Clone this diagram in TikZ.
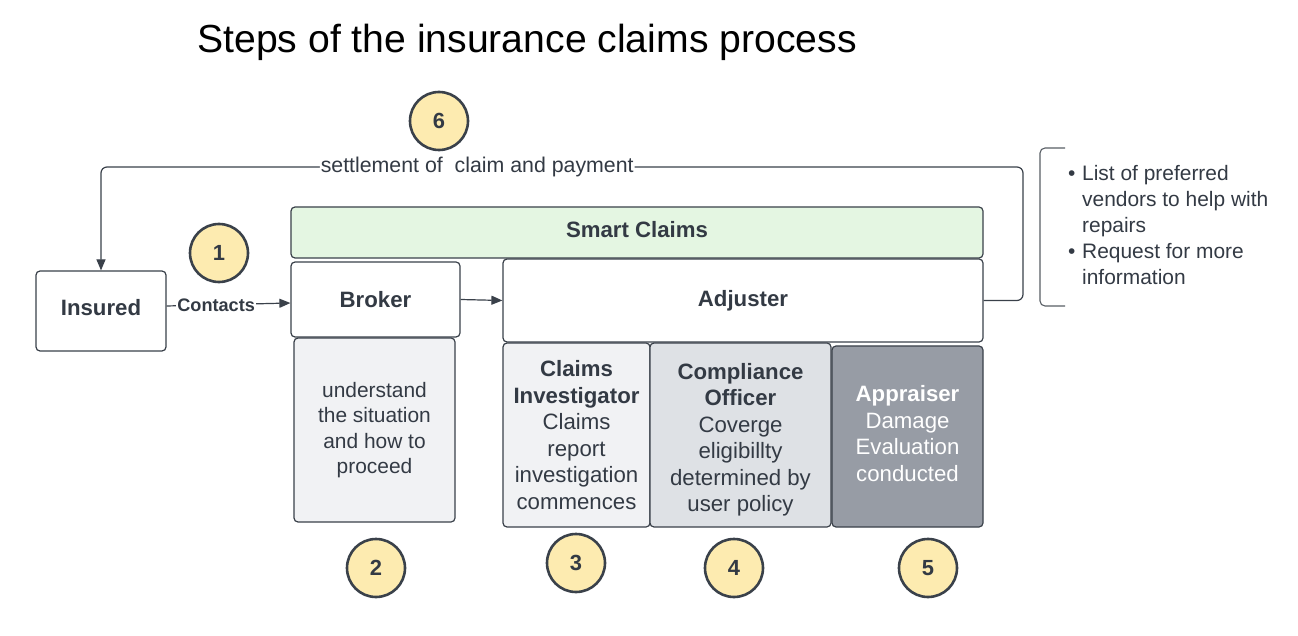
\documentclass[tikz,border=0pt]{standalone}
\usepackage{fontspec}
\setmainfont{Liberation Sans}
\usetikzlibrary{arrows.meta}
\definecolor{ink}{HTML}{3A414A}
\definecolor{txt}{HTML}{333A44}
\definecolor{yel}{HTML}{FDEBB0}
\definecolor{grn}{HTML}{E4F6E2}
\definecolor{lg}{HTML}{F1F2F4}
\definecolor{mg}{HTML}{DEE1E5}
\definecolor{dg}{HTML}{979CA5}
\tikzset{
  box/.style={draw=ink, line width=1.2bp, rounded corners=4bp, fill=white, text=txt,
    font=\fontsize{22.3}{26.6}\selectfont, align=center, inner sep=0pt},
  boxtext/.style={text=txt, font=\fontsize{22.3}{26.6}\selectfont, align=center, inner sep=0pt},
  hd/.style={font=\fontsize{22.3}{26}\selectfont\bfseries},
  num/.style={circle, draw=ink, line width=2.6bp, fill=yel, minimum size=58bp, inner sep=0pt,
    text=txt, font=\fontsize{22}{26}\selectfont\bfseries},
  arr/.style={draw=ink, line width=1.2bp, -{Triangle[length=11bp,width=9bp]}},
  lbl/.style={fill=white, inner sep=1bp, text=txt}
}
\begin{document}
\begin{tikzpicture}[x=1bp,y=-1bp]
\useasboundingbox (0,0) rectangle (1298,636);
\fill[white] (0,0) rectangle (1298,636);

\node[text=black, font=\fontsize{39.3}{44}\selectfont] (title) at (527,42) {Steps of the insurance claims process};

\node[box, hd, minimum width=130bp, minimum height=80bp, text depth=7bp] (ins) at (101,311) {Insured};
\node[box, hd, minimum width=169bp, minimum height=75bp] (brk) at (375.5,299.5) {Broker};
\node[box, hd, fill=grn, minimum width=692bp, minimum height=51bp, text depth=6.5bp] (smart) at (637,232.5) {Smart Claims};
\node[box, hd, minimum width=480bp, minimum height=83bp] (adj) at (743,300.5) {Adjuster};

\node[box, fill=lg, minimum width=161bp, minimum height=184bp, font=\fontsize{21}{25.3}\selectfont] (bdesc) at (374.5,430) {understand\\the situation\\and how to\\proceed};
\node[box, fill=lg, minimum width=147bp, minimum height=184bp] (inv) at (576.5,435) {\textbf{Claims}\\\textbf{Investigator}\\Claims\\report\\investigation\\commences};
\node[box, fill=mg, minimum width=181bp, minimum height=184bp] (comp) at (740.5,435) {};
\node[boxtext] (compt) at (740.5,440) {\textbf{Compliance}\\\textbf{Officer}\\Coverge\\eligibillty\\determined by\\user policy};
\node[box, fill=dg, minimum width=151bp, minimum height=181bp] (appr) at (907.5,436.5) {};
\node[boxtext, text=white] (apprt) at (907.5,433.5) {\textbf{Appraiser}\\Damage\\Evaluation\\conducted};

\node[num] (n6) at (439,121) {6};
\node[num] (n1) at (219,253) {1};
\node[num] (n2) at (376,568) {2};
\node[num] (n3) at (576,563) {3};
\node[num] (n4) at (734,568) {4};
\node[num] (n5) at (928,568) {5};

\draw[arr] ([yshift=5bp]ins.east) -- node[lbl, pos=0.4, font=\fontsize{18.2}{20}\selectfont\bfseries] {Contacts} ([yshift=-3.5bp]brk.west);
\draw[arr] (brk.east) -- (adj.west);

\coordinate (c1) at (1023,167);
\draw[arr, rounded corners=6bp] (adj.east) -| (c1) -- node[lbl, pos=0.592, font=\fontsize{21.4}{26}\selectfont] {settlement of\ \ claim and payment} (ins.north |- c1) -- (ins.north);

\draw[draw=ink!85, line width=1.1bp, rounded corners=5bp] (1065,148) -- (1040,148) -- (1040,306) -- (1065,306);
\node[anchor=west, align=left, inner sep=0pt, text=txt, font=\fontsize{21}{26}\selectfont] (list) at (1068,225)
 {\makebox[14bp][l]{•}List of preferred\\\hspace*{14bp}vendors to help with\\\hspace*{14bp}repairs\\\makebox[14bp][l]{•}Request for more\\\hspace*{14bp}information};
\end{tikzpicture}
\end{document}
